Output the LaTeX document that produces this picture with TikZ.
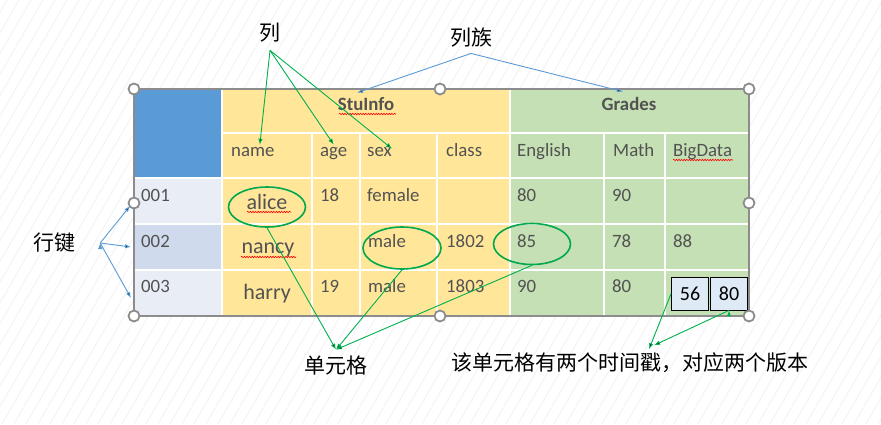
\documentclass[tikz,border=0pt]{standalone}
\usepackage{fontspec}
\setmainfont{Carlito}
\newfontfamily\cjk{Noto Sans CJK SC}
\usetikzlibrary{shapes.geometric,decorations.pathmorphing,arrows.meta}

\definecolor{textgray}{HTML}{525252}
\definecolor{keyblue}{HTML}{5B9BD5}
\definecolor{infoyellow}{HTML}{FFE699}
\definecolor{gradegreen}{HTML}{C5E0B4}
\definecolor{rowlight}{HTML}{E9EDF5}
\definecolor{rowdark}{HTML}{CFDAEC}
\definecolor{ringgreen}{HTML}{00A84F}
\definecolor{arrowgreen}{HTML}{00B050}
\definecolor{handlegray}{HTML}{8C8C8C}
\definecolor{boxblue}{HTML}{DEEBF7}

\begin{document}
\begin{tikzpicture}[x=1pt, y=-1pt,
    txt/.style={anchor=base west, inner sep=0pt, text=textgray, font=\fontsize{18.8}{20}\selectfont},
    bigtxt/.style={anchor=base, inner sep=0pt, text=textgray, font=\fontsize{22}{24}\selectfont},
    colhead/.style={anchor=base, inner sep=0pt, text=textgray, font=\fontsize{18.8}{20}\selectfont\bfseries},
    tag/.style={inner sep=0pt, font=\cjk\fontsize{21}{23}\selectfont},
    ring/.style={ellipse, draw=ringgreen, line width=1.6pt, inner sep=0pt},
    handle/.style={circle, draw=handlegray, fill=white, line width=1.8pt, minimum size=11pt, inner sep=0pt},
    version/.style={draw=black, fill=boxblue, line width=0.8pt, minimum width=37pt, minimum height=33pt,
                    inner sep=0pt, font=\fontsize{20}{22}\selectfont},
    green arrow/.style={draw=arrowgreen, line width=0.9pt, -{Latex[length=6pt,width=4.5pt]}},
    blue arrow/.style={draw=keyblue, line width=0.9pt, -{Latex[length=6pt,width=4.5pt]}},
    grid line/.style={draw=white, line width=1.6pt},
    squiggle/.style={draw=red, line width=0.6pt, decorate, decoration={snake, amplitude=0.7pt, segment length=2.6pt}}]

  % background
  \useasboundingbox (0,0) rectangle (881,424);
  \fill[white] (0,0) rectangle (881,424);
  \begin{scope}
    \clip (0,0) rectangle (881,424);
    \foreach \i in {-250,-238,...,881}
      \draw[gray!9, line width=1pt] (\i,424) -- ++(245,-424);
  \end{scope}

  % table blocks
  \fill[keyblue] (134,89) rectangle (222,178);
  \fill[infoyellow] (222,89) rectangle (510,316);
  \fill[gradegreen] (510,89) rectangle (749,316);
  \fill[rowlight] (134,178) rectangle (222,316);
  \fill[rowdark] (134,224) rectangle (222,270);

  % white grid
  \draw[grid line, line width=2.4pt] (222,133) -- (749,133);
  \draw[grid line, line width=2pt] (134,178) -- (749,178);
  \draw[grid line] (134,224) -- (749,224);
  \draw[grid line] (134,270) -- (749,270);
  \draw[grid line, line width=2pt] (222,89) -- (222,316);
  \draw[grid line, line width=2pt] (510,89) -- (510,316);
  \foreach \x in {312,360,437,604,665}
    \draw[grid line] (\x,133) -- (\x,316);

  % selection frame
  \draw[handlegray, line width=1.3pt] (134,89) rectangle (749,316);

  % headers
  \node[colhead] (hstu) at (366,110) {StuInfo};
  \node[colhead] (hgrades) at (629,110) {Grades};
  \node[txt] (hname) at (231,156) {name};
  \node[txt] (hage) at (320,156) {age};
  \node[txt] (hsex) at (367,156) {sex};
  \node[txt] (hclass) at (446,156) {class};
  \node[txt] (heng) at (517,156) {English};
  \node[txt] (hmath) at (613,156) {Math};
  \node[txt] (hbig) at (673,156) {BigData};

  % row 001
  \node[txt] (k1) at (141,201) {001};
  \node[bigtxt] (alice) at (267,209) {alice};
  \node[txt] (a1) at (320,201) {18};
  \node[txt] (s1) at (367,201) {female};
  \node[txt] (e1) at (517,201) {80};
  \node[txt] (m1) at (612,201) {90};

  % row 002
  \node[txt] (k2) at (141,247) {002};
  \node[bigtxt] (nancy) at (268,253) {nancy};
  \node[txt] (s2) at (368,247) {male};
  \node[txt] (c2) at (446,247) {1802};
  \node[txt] (e2) at (517,247) {85};
  \node[txt] (m2) at (612,247) {78};
  \node[txt] (b2) at (673,247) {88};

  % row 003
  \node[txt] (k3) at (141,292) {003};
  \node[bigtxt] (harry) at (267,299) {harry};
  \node[txt] (a3) at (320,292) {19};
  \node[txt] (s3) at (368,292) {male};
  \node[txt] (c3) at (446,292) {1803};
  \node[txt] (e3) at (517,292) {90};
  \node[txt] (m3) at (612,292) {80};

  % spell check marks
  \draw[squiggle] (339,114) -- (396,114);
  \draw[squiggle] (247,212) -- (291,212);
  \draw[squiggle] (241,257) -- (296,257);
  \draw[squiggle] (673,160) -- (733,160);

  % two versions
  \node[version] (v1) at (690,293.5) {56};
  \node[version] (v2) at (729,293.5) {80};

  % rings
  \node[ring, minimum width=77pt, minimum height=40pt] (ralice) at (267,207) {};
  \node[ring, minimum width=78pt, minimum height=42pt] (rmale) at (402,248) {};
  \node[ring, minimum width=77pt, minimum height=41pt] (r85) at (532,244) {};

  % handles
  \foreach \x/\y in {134/89,440/89,749/89,134/203,749/203,134/316,440/316,749/316}
    \node[handle] at (\x,\y) {};

  % labels
  \node[tag, inner ysep=7.5pt] (col) at (270,33) {列};
  \node[tag, inner ysep=5.5pt] (family) at (471,38) {列族};
  \node[tag, inner xsep=25pt] (rowkey) at (54,243) {行键};
  \node[tag, inner ysep=6.5pt] (cell) at (336,366) {单元格};
  \node[tag, inner ysep=3.5pt] (stamp) at (630,363) {该单元格有两个时间戳，对应两个版本};

  \coordinate (kin1) at (130,206);
  \coordinate (kin2) at (131,247);
  \coordinate (kin3) at (131,298);

  \path[green arrow]
    (col.south) edge ([xshift=7pt,yshift=2pt]hname.north)
                edge ([yshift=2pt]hage.north)
                edge ([yshift=-2pt]hsex.north east)
    (ralice.south) edge (cell.north)
    (rmale.south) edge (cell.north)
    (r85.south) edge (cell.north)
    (v1.west) edge ([xshift=19pt]stamp.north)
    (v2.south) edge ([xshift=24pt,yshift=4pt]stamp.north);

  \path[blue arrow]
    (family.south) edge ([xshift=-9pt,yshift=4pt]hstu.north)
                   edge ([xshift=-6pt,yshift=5pt]hgrades.north)
    (rowkey.east) edge (kin1)
                  edge (kin2)
                  edge (kin3);
\end{tikzpicture}
\end{document}
